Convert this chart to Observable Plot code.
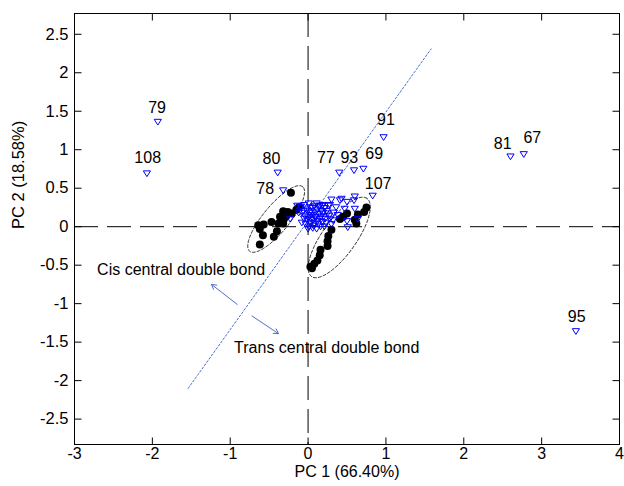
<!DOCTYPE html>
<html>
<head>
<meta charset="utf-8">
<script src="https://cdn.jsdelivr.net/npm/d3@7"></script>
<script src="https://cdn.jsdelivr.net/npm/@observablehq/plot@0.6"></script>
<style>
  html, body { margin: 0; padding: 0; background: #fff; }
  #chart { width: 624px; height: 486px; }
</style>
</head>
<body>
<div id="chart"></div>
<script>
// ---- data ----
const xTicks = [-3, -2, -1, 0, 1, 2, 3, 4];
const yTicks = [-2.5, -2, -1.5, -1, -0.5, 0, 0.5, 1, 1.5, 2, 2.5];
const xLabel = "PC 1 (66.40%)";
const yLabel = "PC 2 (18.58%)";

// black circles (cis / trans groups)
const circleX = [-0.22,-0.32,-0.26,-0.21,-0.15,-0.36,-0.31,-0.47,-0.38,-0.32,-0.64,-0.57,-0.62,-0.40,-0.58,-0.44,-0.62,-0.12,-0.28,
                 0.75,0.72,0.64,0.60,0.62,0.50,0.41,0.45,0.30,0.26,0.25,0.25,0.16,0.15,0.12,0.05,0.03,0.08];
const circleY = [0.44,0.20,0.19,0.17,0.22,0.13,0.10,0.06,0.04,0.04,0.02,0.03,-0.03,-0.06,-0.11,-0.13,-0.23,0.25,0.14,
                 0.25,0.19,0.16,0.09,0.04,0.17,0.10,0.13,-0.04,-0.12,-0.19,-0.25,-0.30,-0.37,-0.44,-0.54,-0.52,-0.48];

// unlabeled blue triangles
const triX = [0.15,0.28,0.30,0.41,0.43,0.50,0.60,0.59,0.47,0.60,0.50,0.64,0.51,-0.23,-0.09,0.01,-0.08,0.18,
              -0.10,-0.05,-0.02,0.03,0.08,0.12,0.17,0.21,0.25,0.05,0.10,0.15,0.20,0.00,-0.05,0.03,0.08,0.13,0.18,0.23,
              -0.03,0.01,0.06,0.11,0.16,0.28,0.30,0.02,0.14,-0.08,0.07,-0.12,0.19,0.26,
              -0.06,0.04,0.09,0.12,0.17,0.22,-0.01,0.04,0.09,0.19,0.24,0.06,-0.04,0.14,0.27,0.33,0.36,0.11,0.00,0.07,0.21,0.32,0.38,-0.14];
const triY = [0.27,0.28,0.35,0.34,0.36,0.32,0.39,0.34,0.23,0.23,0.07,0.10,-0.01,0.10,0.26,0.30,0.18,0.27,
              0.25,0.28,0.22,0.25,0.27,0.22,0.20,0.24,0.17,0.15,0.12,0.10,0.13,0.12,0.10,0.05,0.04,0.03,0.06,0.05,
              0.03,0.00,-0.02,-0.03,0.00,0.10,0.03,0.18,0.16,0.05,0.09,0.18,0.28,0.27,
              0.20,0.20,0.18,0.07,0.13,0.10,0.08,0.10,0.13,0.18,0.20,0.24,0.14,0.26,0.14,0.18,0.25,0.30,-0.03,0.01,0.00,0.08,0.15,0.27];

// labeled blue triangles
const labelNames = ["79","108","81","67","95","91","80","78","77","93","69","107"];
const labelTriX  = [-1.93,-2.07,2.60,2.77,3.44,0.97,-0.39,-0.32,0.40,0.59,0.71,0.83];
const labelTriY  = [1.36,0.69,0.91,0.94,-1.36,1.16,0.70,0.47,0.70,0.73,0.75,0.40];
const labelTextX = [-1.94,-2.06,2.50,2.88,3.45,1.00,-0.47,-0.55,0.23,0.53,0.85,0.90];
const labelTextY = [1.55,0.90,1.08,1.16,-1.17,1.39,0.88,0.49,0.90,0.90,0.95,0.55];

// dotted reference line
const refLineX = [-1.54, 1.58];
const refLineY = [-2.10, 2.31];

// ellipses: center x, center y, semi-major, semi-minor, angle (deg)
const ellCX = [-0.41, 0.40];
const ellCY = [0.10, -0.14];
const ellA = [0.54, 0.62];
const ellB = [0.17, 0.22];
const ellAngle = [51, 55];

// annotation arrows
const arrowX1 = [-0.91, -0.72];
const arrowY1 = [-1.01, -1.16];
const arrowX2 = [-1.24, -0.38];
const arrowY2 = [-0.75, -1.39];

// annotation texts
const noteText = ["Cis central double bond", "Trans central double bond"];
const noteX = [-2.71, -0.95];
const noteY = [-0.56, -1.57];

// ---- layout ----
const W = 624, H = 486, ML = 74, MR = 5, MT = 13, MB = 42;
const XD = [-3, 4], YD = [-2.83, 2.77];

// ---- build tables ----
const circles = circleX.map((x, i) => ({x, y: circleY[i]}));
const tris = triX.map((x, i) => ({x, y: triY[i]}));
const labeled = labelNames.map((n, i) => ({name: n, x: labelTriX[i], y: labelTriY[i], tx: labelTextX[i], ty: labelTextY[i]}));
const refLine = refLineX.map((x, i) => ({x, y: refLineY[i]}));
const ellipsePts = [];
ellCX.forEach((cx, k) => {
  const phi = ellAngle[k] * Math.PI / 180;
  for (let j = 0; j <= 120; j++) {
    const t = j / 120 * 2 * Math.PI;
    const a = ellA[k] * Math.cos(t), b = ellB[k] * Math.sin(t);
    ellipsePts.push({id: k, x: cx + a * Math.cos(phi) - b * Math.sin(phi), y: ellCY[k] + a * Math.sin(phi) + b * Math.cos(phi)});
  }
});
const arrows = arrowX1.map((x1, i) => ({x1, y1: arrowY1[i], x2: arrowX2[i], y2: arrowY2[i]}));
const notes = noteText.map((t, i) => ({t, x: noteX[i], y: noteY[i]}));

// custom marker shapes
const triDown = {
  draw(context, size) {
    const r = Math.sqrt(size / Math.PI);
    context.moveTo(-r, -r * 0.75);
    context.lineTo(r, -r * 0.75);
    context.lineTo(0, r * 0.85);
    context.closePath();
  }
};
const TL = 7; // inward tick length, px
const tickShape = (dx, dy) => ({draw(context) { context.moveTo(0, 0); context.lineTo(dx * TL, dy * TL); }});
const tickUp = tickShape(0, -1), tickDn = tickShape(0, 1), tickRt = tickShape(1, 0), tickLf = tickShape(-1, 0);

const fmt = d => String(d);
const FONT = "'Liberation Sans', Arial, Helvetica, sans-serif";
const tickOpts = {r: 3, fill: "none", stroke: "black", strokeWidth: 1};

const chart = Plot.plot({
  width: W,
  height: H,
  marginLeft: ML,
  marginRight: MR,
  marginTop: MT,
  marginBottom: MB,
  style: {fontFamily: FONT, fontSize: "16px", background: "white", color: "black"},
  x: {domain: XD},
  y: {domain: YD},
  marks: [
    Plot.ruleX([0], {stroke: "black", strokeWidth: 1, strokeDasharray: "24,9"}),
    Plot.ruleY([0], {stroke: "black", strokeWidth: 1, strokeDasharray: "24,9"}),
    Plot.line(refLine, {x: "x", y: "y", stroke: "#4a6fd0", strokeWidth: 1, strokeDasharray: "2,2"}),
    Plot.line(ellipsePts, {x: "x", y: "y", z: "id", stroke: "black", strokeWidth: 0.8, strokeDasharray: "3,2"}),
    Plot.dot(circles, {x: "x", y: "y", r: 4, fill: "black", stroke: "none"}),
    Plot.dot(tris, {x: "x", y: "y", r: 3.6, symbol: triDown, fill: "none", stroke: "#0000ff", strokeWidth: 1}),
    Plot.dot(labeled, {x: "x", y: "y", r: 3.6, symbol: triDown, fill: "none", stroke: "#0000ff", strokeWidth: 1}),
    Plot.text(labeled, {x: "tx", y: "ty", text: "name", fontSize: 16, fill: "black"}),
    Plot.arrow(arrows, {x1: "x1", y1: "y1", x2: "x2", y2: "y2", stroke: "#4f6fbf", strokeWidth: 1, headLength: 8, bend: 0}),
    Plot.text(notes, {x: "x", y: "y", text: "t", textAnchor: "start", fontSize: 16, fill: "black"}),
    // axes: labels
    Plot.axisX(xTicks, {anchor: "bottom", tickSize: 0, tickPadding: 3, tickFormat: fmt, label: null, fontSize: 16}),
    Plot.axisY(yTicks, {anchor: "left", tickSize: 0, tickPadding: 6, tickFormat: fmt, label: null, fontSize: 16.5}),
    // inward ticks on all four sides
    Plot.dot(xTicks, {x: d => d, y: () => YD[0], symbol: tickUp, ...tickOpts}),
    Plot.dot(xTicks, {x: d => d, y: () => YD[1], symbol: tickDn, ...tickOpts}),
    Plot.dot(yTicks, {y: d => d, x: () => XD[0], symbol: tickRt, ...tickOpts}),
    Plot.dot(yTicks, {y: d => d, x: () => XD[1], symbol: tickLf, ...tickOpts}),
    Plot.text([xLabel], {frameAnchor: "bottom", dy: 32, fontSize: 16, fill: "black"}),
    Plot.text([yLabel], {frameAnchor: "left", dx: -56, rotate: -90, fontSize: 16.5, fill: "black"}),
    Plot.frame({stroke: "black", strokeWidth: 1})
  ]
});
document.getElementById("chart").appendChild(chart);
</script>
</body>
</html>
